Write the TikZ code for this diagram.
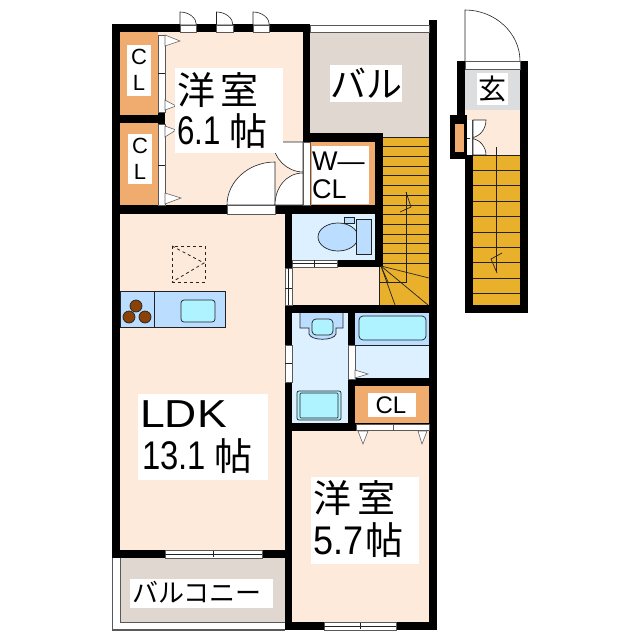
\documentclass[tikz,border=0pt]{standalone}
\usepackage{fontspec}
\usepackage{graphicx}
\setmainfont{Liberation Sans}
\newfontfamily\cjk{Noto Sans CJK JP}
\definecolor{floorc}{HTML}{FDEADB}
\definecolor{orangec}{HTML}{F0AC6E}
\definecolor{balc}{HTML}{E0D8D0}
\definecolor{stairc}{HTML}{E9B02C}
\definecolor{genc}{HTML}{DCDDDF}
\definecolor{wetc}{HTML}{DDF0FF}
\definecolor{fixc}{HTML}{BBDDFF}
\definecolor{cyanc}{HTML}{AEF3FF}
\definecolor{brownc}{HTML}{8B4208}
\definecolor{linec}{HTML}{222222}
\newcommand{\fs}[1]{\fontsize{#1}{#1}\selectfont}
\tikzset{
  wall/.style={fill=black,draw=none},
  strip/.style={fill=white,draw=gray!70!black,line width=0.6pt},
  tread/.style={draw=linec,line width=0.7pt},
  doorline/.style={draw=linec,line width=0.6pt},
  trig/.style={fill=white,draw=gray!80!black,line width=0.6pt},
  fixture/.style={draw=linec,line width=0.7pt},
  txt/.style={inner sep=0pt,text=black,anchor=center},
  whitebox/.style={fill=white,draw=none}
}
\begin{document}
\begin{tikzpicture}[x=1pt,y=-1pt]
\useasboundingbox (0,0) rectangle (640,640);
\fill[white] (0,0) rectangle (640,640);
% floors
\fill[floorc] (120,32) rectangle (303,205);
\fill[orangec] (120,32) rectangle (158,115);
\fill[orangec] (120,123) rectangle (158,205);
\fill[balc] (310,32) rectangle (429,137);
\fill[orangec] (310,142) rectangle (375,205);
\fill[stairc] (383,137) rectangle (429,305);
\fill[wetc] (292,214) rectangle (375,260);
\fill[floorc] (292,267) rectangle (379,305);
\fill[stairc] (379,267) rectangle (429,305);
\fill[floorc] (120,214) rectangle (285,550);
\fill[wetc] (292,313) rectangle (348,423);
\fill[wetc] (355,313) rectangle (429,378);
\fill[orangec] (355,386) rectangle (429,423);
\fill[floorc] (292,431) rectangle (429,622);
\fill[balc] (121,558) rectangle (285,622);
% walls
\fill[wall] (112,24) rectangle (310,32);
\fill[wall] (112,24) rectangle (120,558);
\fill[wall] (120,115) rectangle (165,123);
\fill[wall] (158,112) rectangle (165,124);
\fill[wall] (112,205) rectangle (375,214);
\fill[wall] (303,24) rectangle (310,142);
\fill[wall] (303,133) rectangle (383,142);
\fill[wall] (375,133) rectangle (383,267);
\fill[wall] (429,20) rectangle (437,630);
\fill[wall] (285,205) rectangle (292,268);
\fill[wall] (285,260) rectangle (383,267);
\fill[wall] (285,305) rectangle (437,313);
\fill[wall] (285,305) rectangle (292,630);
\fill[wall] (348,313) rectangle (355,431);
\fill[wall] (348,378) rectangle (437,386);
\fill[wall] (285,423) rectangle (437,431);
\fill[wall] (112,550) rectangle (292,558);
\fill[wall] (285,622) rectangle (437,630);
% balcony top rail
\draw[strip] (310,25) rectangle (429,32);
% balcony rail
\draw[draw=gray!70!black,line width=0.8pt] (112,558) -- (112,630);
\draw[draw=gray!70!black,line width=1.2pt] (112,630) -- (285,630);
\draw[draw=gray!70!black,line width=0.6pt] (120,558) -- (120,622) -- (285,622);
% stairs main
\foreach \yy in {137,146.7,156.4,166.1,175.8,185.5,195.2,204.9,214.6,224.3,234,243.7,253.4,263.1}
  \draw[tread] (383,\yy) -- (429,\yy);
\draw[tread] (381,266) -- (429,278);
\draw[tread] (381,266) -- (428,305);
\draw[tread] (381,266) -- (395,305);
\draw[tread] (381,266) -- (388,282);
\draw[tread] (379,267) -- (379,305);
\draw[tread] (406,192) -- (406,282) -- (379,282);
\draw[tread] (406,192) -- (411,207) -- (400,212);
% closet doors left
\draw[strip] (158,35) rectangle (165,112);
\draw[strip] (158,124) rectangle (165,205);
\draw[doorline] (158,73) -- (165,73);
\draw[doorline] (158,165) -- (165,165);
\draw[trig] (165,35) -- (180,41) -- (165,46) -- cycle;
\draw[trig] (165,100) -- (176,106) -- (165,110) -- cycle;
\draw[trig] (165,126) -- (176,130) -- (165,137) -- cycle;
\draw[trig] (165,193) -- (181,198) -- (165,204) -- cycle;
% top doors
\foreach \xa in {180,216.5,253}{
  \draw[strip] (\xa,25) rectangle ++(16.5,7);
  \draw[doorline,fill=white] (\xa,25) -- (\xa,12) .. controls +(9,0) and +(0,-7) .. ++(16.5,13) -- cycle;
}
% room door
\draw[doorline,fill=white] (275,205) -- (275,162) .. controls (248,162) and (227,182) .. (227,205) -- cycle;
\draw[strip] (227,205) rectangle (275,214);
% W-CL doors
\draw[doorline,fill=white] (303,142) -- (273,142) .. controls (273,158) and (287,172) .. (303,172) -- cycle;
\draw[doorline,fill=white] (303,205) -- (303,173) .. controls (286,173) and (275,188) .. (275,205) -- cycle;
\draw[strip] (303,142) rectangle (310,205);
% toilet
\draw[strip] (292,260) rectangle (337,267);
\draw[doorline] (292,263.5) -- (337,263.5);
\draw[doorline] (314,260) -- (314,267);
\draw[fixture,fill=fixc] (338,237) ellipse[x radius=20,y radius=14];
\draw[fixture,fill=fixc] (356,219) rectangle (371,254);
\draw[fixture,fill=fixc] (344,217) rectangle (354,223);
% hall door strip
\draw[strip] (285,268) rectangle (292,305);
\draw[doorline] (288.5,268) -- (288.5,305);
\draw[doorline] (285,288) -- (292,288);
% kitchen
\draw[fixture,fill=fixc] (120,291) rectangle (225,327);
\draw[fixture] (154,291) -- (154,327);
\draw[fixture,fill=cyanc,rounded corners=3pt] (181,300) rectangle (215,322);
\draw[fixture,fill=brownc] (136,306) circle (6);
\draw[fixture,fill=brownc] (129,317) circle (6);
\draw[fixture,fill=brownc] (145,317) circle (6);
% dashed fridge
\draw[dashed,line width=0.8pt,linec] (172,246) rectangle (205,282);
\draw[dashed,line width=0.8pt,linec] (172,246) -- (204,263) -- (172,282);
% windows
\draw[strip] (165,550) rectangle (262,558);
\draw[doorline] (165,554) -- (262,554);
\draw[doorline] (213,551) -- (213,557);
\draw[strip] (324,622) rectangle (396,630);
\draw[doorline] (324,626) -- (396,626);
\draw[doorline] (360,623) -- (360,629);
% washroom
\draw[fixture,fill=fixc] (300,313) -- (300,328) -- (309,328) -- (309,334) .. controls (311,341) and (334,341) .. (336,334) -- (336,328) -- (343,328) -- (343,313);
\draw[fixture,fill=cyanc,rounded corners=4pt] (312,319) rectangle (333,335);
\draw[fixture,fill=cyanc,rounded corners=2pt] (297,391) rectangle (341,420);
\draw[fixture,rounded corners=1pt] (300,393) rectangle (338,418);
\draw[strip] (285,345) rectangle (292,382);
\draw[doorline] (285,363) -- (292,363);
\draw[strip] (348,345) rectangle (355,379);
\draw[trig] (355,370) -- (368,374) -- (355,378) -- cycle;
% bath
\fill[fixc] (355,313) rectangle (429,345);
\draw[fixture] (355,345) -- (429,345);
\draw[fixture,fill=cyanc,rounded corners=4pt] (359,316) rectangle (426,340);
% CL 3 doors
\draw[strip] (356,424) rectangle (393,430);
\draw[strip] (393,424) rectangle (429,430);
\draw[trig] (358,431) -- (363,444) -- (368,431) -- cycle;
\draw[trig] (418,431) -- (422,444) -- (427,431) -- cycle;
% entry
\fill[genc] (465,69) rectangle (520,110);
\draw[doorline] (465,110) -- (520,110);
\fill[floorc] (465,110) rectangle (520,155);
\fill[stairc] (473,155) rectangle (520,305);
\fill[wall] (457,61) rectangle (465,115);
\fill[wall] (520,61) rectangle (528,313);
\fill[wall] (450,115) rectangle (467,159);
\fill[wall] (465,155) rectangle (473,313);
\fill[wall] (465,305) rectangle (528,313);
\fill[orangec] (455,124) rectangle (464,152);
\draw[strip] (465,61) rectangle (520,69);
\draw[doorline] (465,61) -- (465,10) .. controls (495,10) and (520,33) .. (520,61);
\fill[white] (467,120) rectangle (473,155);
\draw[draw=gray!70!black,line width=0.8pt] (472.5,120) -- (472.5,155);
\draw[doorline] (467,138) -- (470,138);
\draw[doorline,fill=white] (473,120) -- (486,120) .. controls (486,129) and (480,136) .. (473,137.5) -- cycle;
\draw[doorline,fill=white] (473,155) -- (486,155) .. controls (486,147) and (480,140) .. (473,138.5) -- cycle;
\foreach \yy in {155,170.4,185.8,201.2,216.6,232,247.4,262.8,278.2,293.6}
  \draw[tread] (473,\yy) -- (520,\yy);
\draw[tread] (496,147) -- (496,272);
\draw[tread] (502,253) -- (491,259) -- (497,273);
% white label panels and text
\fill[whitebox] (127,45) rectangle (151,96);
\fill[whitebox] (128,134) rectangle (152,184);
\node[txt] (cla) at (139,57) {\fs{22}C};
\node[txt] (clb) at (139,83) {\fs{22}L};
\node[txt] (clc) at (140,146) {\fs{22}C};
\node[txt] (cld) at (140,172) {\fs{22}L};
\fill[whitebox] (175,68) rectangle (283,153);
\node[txt] (ya) at (218,90) {\fs{38}\cjk 洋\kern6pt 室};
\node[txt,anchor=west] (yb) at (177,131) {\fs{40}\scalebox{.78}[1]{6.1}};
\node[txt] (ybk) at (248,131) {\fs{38}\cjk 帖};
\fill[whitebox] (330,65) rectangle (402,102);
\node[txt] (bal) at (366,83) {\fs{36}\cjk バル};
\fill[whitebox] (312,146) rectangle (369,204);
\node[txt,anchor=west] (wa) at (312,161) {\fs{27}W—};
\node[txt,anchor=west] (wb) at (312,189) {\fs{27}CL};
\fill[whitebox] (368,393) rectangle (416,417);
\node[txt] (clx) at (391,405) {\fs{24}CL};
\fill[whitebox] (138,394) rectangle (268,480);
\node[txt,anchor=west] (ldk) at (140,414) {\fs{39}\scalebox{1.14}[1]{LDK}};
\node[txt,anchor=west] (ldkb) at (142,456) {\fs{40}\scalebox{.82}[1]{13.1}};
\node[txt] (ldkc) at (233.5,456) {\fs{38}\cjk 帖};
\fill[whitebox] (311,477) rectangle (419,564);
\node[txt] (yc) at (354.5,498) {\fs{38}\cjk 洋\kern6pt 室};
\node[txt,anchor=west] (yd) at (313,541) {\fs{40}\scalebox{.9}[1]{5.7}};
\node[txt] (ye) at (384,540) {\fs{38}\cjk 帖};
\fill[whitebox] (130,579) rectangle (273,608);
\node[txt] (bc) at (197,592) {\fs{26}\cjk バルコニー};
\fill[whitebox] (477,73) rectangle (508,105);
\node[txt] (gen) at (492,89) {\fs{28}\cjk 玄};
\end{tikzpicture}
\end{document}
